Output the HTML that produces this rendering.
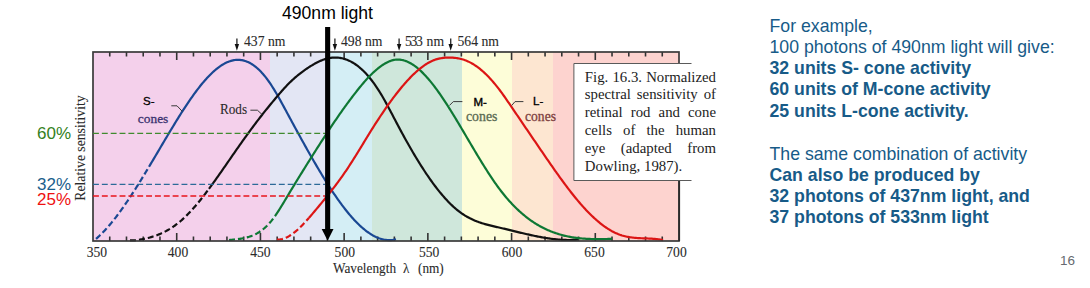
<!DOCTYPE html>
<html><head><meta charset="utf-8">
<style>
html,body{margin:0;padding:0;background:#fff;}
body{width:1090px;height:288px;position:relative;overflow:hidden;}
.a{position:absolute;white-space:nowrap;line-height:1;}
.serif{font-family:"Liberation Serif",serif;}
.ct{color:#2a2a2a;-webkit-text-stroke:0.1px #2a2a2a;}
.sans{font-family:"Liberation Sans",sans-serif;}
svg{position:absolute;left:0;top:0;}
.rt{position:absolute;left:769.5px;font-family:"Liberation Sans",sans-serif;font-size:17.7px;color:#175b88;white-space:nowrap;line-height:1;}
.b{font-weight:bold;}
.cl{position:absolute;left:584.8px;width:131.2px;font-family:"Liberation Serif",serif;font-size:14.8px;line-height:1;color:#222;text-align:justify;text-align-last:justify;white-space:nowrap;}
</style></head><body>
<svg width="1090" height="288" viewBox="0 0 1090 288">
<rect x="93" y="52" width="177" height="189" fill="#f4d0eb"/>
<rect x="270" y="52" width="59" height="189" fill="#e3e6f4"/>
<rect x="329" y="52" width="43" height="189" fill="#d4eef5"/>
<rect x="372" y="52" width="90" height="189" fill="#cfe7db"/>
<rect x="462" y="52" width="50" height="189" fill="#fdfdd8"/>
<rect x="512" y="52" width="41" height="189" fill="#fde6d1"/>
<rect x="553" y="52" width="126" height="189" fill="#fdd3cf"/>
<line x1="109.74" y1="52" x2="109.74" y2="56.5" stroke="#333" stroke-width="1.6"/>
<line x1="109.74" y1="241" x2="109.74" y2="236.5" stroke="#333" stroke-width="1.6"/>
<line x1="126.49" y1="52" x2="126.49" y2="56.5" stroke="#333" stroke-width="1.6"/>
<line x1="126.49" y1="241" x2="126.49" y2="236.5" stroke="#333" stroke-width="1.6"/>
<line x1="143.23" y1="52" x2="143.23" y2="56.5" stroke="#333" stroke-width="1.6"/>
<line x1="143.23" y1="241" x2="143.23" y2="236.5" stroke="#333" stroke-width="1.6"/>
<line x1="159.97" y1="52" x2="159.97" y2="56.5" stroke="#333" stroke-width="1.6"/>
<line x1="159.97" y1="241" x2="159.97" y2="236.5" stroke="#333" stroke-width="1.6"/>
<line x1="176.71" y1="52" x2="176.71" y2="60" stroke="#333" stroke-width="1.6"/>
<line x1="176.71" y1="241" x2="176.71" y2="233" stroke="#333" stroke-width="1.6"/>
<line x1="193.46" y1="52" x2="193.46" y2="56.5" stroke="#333" stroke-width="1.6"/>
<line x1="193.46" y1="241" x2="193.46" y2="236.5" stroke="#333" stroke-width="1.6"/>
<line x1="210.20" y1="52" x2="210.20" y2="56.5" stroke="#333" stroke-width="1.6"/>
<line x1="210.20" y1="241" x2="210.20" y2="236.5" stroke="#333" stroke-width="1.6"/>
<line x1="226.94" y1="52" x2="226.94" y2="56.5" stroke="#333" stroke-width="1.6"/>
<line x1="226.94" y1="241" x2="226.94" y2="236.5" stroke="#333" stroke-width="1.6"/>
<line x1="243.69" y1="52" x2="243.69" y2="56.5" stroke="#333" stroke-width="1.6"/>
<line x1="243.69" y1="241" x2="243.69" y2="236.5" stroke="#333" stroke-width="1.6"/>
<line x1="260.43" y1="52" x2="260.43" y2="60" stroke="#333" stroke-width="1.6"/>
<line x1="260.43" y1="241" x2="260.43" y2="233" stroke="#333" stroke-width="1.6"/>
<line x1="277.17" y1="52" x2="277.17" y2="56.5" stroke="#333" stroke-width="1.6"/>
<line x1="277.17" y1="241" x2="277.17" y2="236.5" stroke="#333" stroke-width="1.6"/>
<line x1="293.92" y1="52" x2="293.92" y2="56.5" stroke="#333" stroke-width="1.6"/>
<line x1="293.92" y1="241" x2="293.92" y2="236.5" stroke="#333" stroke-width="1.6"/>
<line x1="310.66" y1="52" x2="310.66" y2="56.5" stroke="#333" stroke-width="1.6"/>
<line x1="310.66" y1="241" x2="310.66" y2="236.5" stroke="#333" stroke-width="1.6"/>
<line x1="327.40" y1="52" x2="327.40" y2="56.5" stroke="#333" stroke-width="1.6"/>
<line x1="327.40" y1="241" x2="327.40" y2="236.5" stroke="#333" stroke-width="1.6"/>
<line x1="344.14" y1="52" x2="344.14" y2="60" stroke="#333" stroke-width="1.6"/>
<line x1="344.14" y1="241" x2="344.14" y2="233" stroke="#333" stroke-width="1.6"/>
<line x1="360.89" y1="52" x2="360.89" y2="56.5" stroke="#333" stroke-width="1.6"/>
<line x1="360.89" y1="241" x2="360.89" y2="236.5" stroke="#333" stroke-width="1.6"/>
<line x1="377.63" y1="52" x2="377.63" y2="56.5" stroke="#333" stroke-width="1.6"/>
<line x1="377.63" y1="241" x2="377.63" y2="236.5" stroke="#333" stroke-width="1.6"/>
<line x1="394.37" y1="52" x2="394.37" y2="56.5" stroke="#333" stroke-width="1.6"/>
<line x1="394.37" y1="241" x2="394.37" y2="236.5" stroke="#333" stroke-width="1.6"/>
<line x1="411.12" y1="52" x2="411.12" y2="56.5" stroke="#333" stroke-width="1.6"/>
<line x1="411.12" y1="241" x2="411.12" y2="236.5" stroke="#333" stroke-width="1.6"/>
<line x1="427.86" y1="52" x2="427.86" y2="60" stroke="#333" stroke-width="1.6"/>
<line x1="427.86" y1="241" x2="427.86" y2="233" stroke="#333" stroke-width="1.6"/>
<line x1="444.60" y1="52" x2="444.60" y2="56.5" stroke="#333" stroke-width="1.6"/>
<line x1="444.60" y1="241" x2="444.60" y2="236.5" stroke="#333" stroke-width="1.6"/>
<line x1="461.35" y1="52" x2="461.35" y2="56.5" stroke="#333" stroke-width="1.6"/>
<line x1="461.35" y1="241" x2="461.35" y2="236.5" stroke="#333" stroke-width="1.6"/>
<line x1="478.09" y1="52" x2="478.09" y2="56.5" stroke="#333" stroke-width="1.6"/>
<line x1="478.09" y1="241" x2="478.09" y2="236.5" stroke="#333" stroke-width="1.6"/>
<line x1="494.83" y1="52" x2="494.83" y2="56.5" stroke="#333" stroke-width="1.6"/>
<line x1="494.83" y1="241" x2="494.83" y2="236.5" stroke="#333" stroke-width="1.6"/>
<line x1="511.57" y1="52" x2="511.57" y2="60" stroke="#333" stroke-width="1.6"/>
<line x1="511.57" y1="241" x2="511.57" y2="233" stroke="#333" stroke-width="1.6"/>
<line x1="528.32" y1="52" x2="528.32" y2="56.5" stroke="#333" stroke-width="1.6"/>
<line x1="528.32" y1="241" x2="528.32" y2="236.5" stroke="#333" stroke-width="1.6"/>
<line x1="545.06" y1="52" x2="545.06" y2="56.5" stroke="#333" stroke-width="1.6"/>
<line x1="545.06" y1="241" x2="545.06" y2="236.5" stroke="#333" stroke-width="1.6"/>
<line x1="561.80" y1="52" x2="561.80" y2="56.5" stroke="#333" stroke-width="1.6"/>
<line x1="561.80" y1="241" x2="561.80" y2="236.5" stroke="#333" stroke-width="1.6"/>
<line x1="578.55" y1="52" x2="578.55" y2="56.5" stroke="#333" stroke-width="1.6"/>
<line x1="578.55" y1="241" x2="578.55" y2="236.5" stroke="#333" stroke-width="1.6"/>
<line x1="595.29" y1="52" x2="595.29" y2="60" stroke="#333" stroke-width="1.6"/>
<line x1="595.29" y1="241" x2="595.29" y2="233" stroke="#333" stroke-width="1.6"/>
<line x1="612.03" y1="52" x2="612.03" y2="56.5" stroke="#333" stroke-width="1.6"/>
<line x1="612.03" y1="241" x2="612.03" y2="236.5" stroke="#333" stroke-width="1.6"/>
<line x1="628.78" y1="52" x2="628.78" y2="56.5" stroke="#333" stroke-width="1.6"/>
<line x1="628.78" y1="241" x2="628.78" y2="236.5" stroke="#333" stroke-width="1.6"/>
<line x1="645.52" y1="52" x2="645.52" y2="56.5" stroke="#333" stroke-width="1.6"/>
<line x1="645.52" y1="241" x2="645.52" y2="236.5" stroke="#333" stroke-width="1.6"/>
<line x1="662.26" y1="52" x2="662.26" y2="56.5" stroke="#333" stroke-width="1.6"/>
<line x1="662.26" y1="241" x2="662.26" y2="236.5" stroke="#333" stroke-width="1.6"/>
<path d="M96.00,238.92 L97.00,238.05 L98.00,237.16 L99.00,236.24 L100.00,235.29 L101.00,234.32 L102.00,233.32 L103.00,232.31 L104.00,231.26 L105.00,230.20 L106.00,229.11 L107.00,228.00 L108.00,226.87 L109.00,225.71 L110.00,224.54 L111.00,223.34 L112.00,222.12 L113.00,220.89 L114.00,219.63 L115.00,218.36 L116.00,217.07 L117.00,215.76 L118.00,214.43 L119.00,213.08 L120.00,211.72 L121.00,210.34 L122.00,208.95 L123.00,207.54 L124.00,206.11 L125.00,204.67 L126.00,203.22 L127.00,201.75 L128.00,200.27 L129.00,198.77 L130.00,197.26 L131.00,195.74 L132.00,194.21 L133.00,192.67 L134.00,191.12 L135.00,189.55 L136.00,187.98 L137.00,186.39 L138.00,184.80 L139.00,183.20 L140.00,181.59 L141.00,179.97 L142.00,178.34 L143.00,176.71 L144.00,175.07 L145.00,173.42 L146.00,171.77 L147.00,170.11 L148.00,168.45 L149.00,166.78" fill="none" stroke="#1a4893" stroke-width="2.2" stroke-dasharray="6 3" stroke-linecap="butt"/>
<path d="M149.00,166.78 L150.00,165.11 L151.00,163.43 L152.00,161.75 L153.00,160.07 L154.00,158.38 L155.00,156.70 L156.00,155.01 L157.00,153.32 L158.00,151.63 L159.00,149.94 L160.00,148.25 L161.00,146.55 L162.00,144.86 L163.00,143.18 L164.00,141.49 L165.00,139.80 L166.00,138.12 L167.00,136.44 L168.00,134.76 L169.00,133.09 L170.00,131.42 L171.00,129.76 L172.00,128.10 L173.00,126.45 L174.00,124.81 L175.00,123.17 L176.00,121.54 L177.00,119.92 L178.00,118.31 L179.00,116.70 L180.00,115.11 L181.00,113.53 L182.00,111.96 L183.00,110.40 L184.00,108.85 L185.00,107.32 L186.00,105.80 L187.00,104.30 L188.00,102.81 L189.00,101.33 L190.00,99.87 L191.00,98.43 L192.00,97.01 L193.00,95.60 L194.00,94.21 L195.00,92.84 L196.00,91.49 L197.00,90.15 L198.00,88.84 L199.00,87.55 L200.00,86.29 L201.00,85.04 L202.00,83.82 L203.00,82.62 L204.00,81.44 L205.00,80.29 L206.00,79.16 L207.00,78.06 L208.00,76.99 L209.00,75.94 L210.00,74.92 L211.00,73.93 L212.00,72.97 L213.00,72.03 L214.00,71.13 L215.00,70.26 L216.00,69.41 L217.00,68.60 L218.00,67.82 L219.00,67.07 L220.00,66.36 L221.00,65.68 L222.00,65.03 L223.00,64.42 L224.00,63.85 L225.00,63.31 L226.00,62.80 L227.00,62.34 L228.00,61.91 L229.00,61.52 L230.00,61.17 L231.00,60.86 L232.00,60.59 L233.00,60.36 L234.00,60.17 L235.00,60.02 L236.00,59.92 L237.00,59.85 L238.00,59.84 L239.00,59.86 L240.00,59.93 L241.00,60.04 L242.00,60.20 L243.00,60.41 L244.00,60.65 L245.00,60.94 L246.00,61.28 L247.00,61.66 L248.00,62.09 L249.00,62.56 L250.00,63.08 L251.00,63.65 L252.00,64.26 L253.00,64.91 L254.00,65.61 L255.00,66.36 L256.00,67.15 L257.00,67.99 L258.00,68.88 L259.00,69.81 L260.00,70.79 L261.00,71.82 L262.00,72.90 L263.00,74.02 L264.00,75.19 L265.00,76.40 L266.00,77.67 L267.00,78.98 L268.00,80.34 L269.00,81.74 L270.00,83.20 L271.00,84.70 L272.00,86.24 L273.00,87.83 L274.00,89.45 L275.00,91.10 L276.00,92.79 L277.00,94.51 L278.00,96.25 L279.00,98.01 L280.00,99.80 L281.00,101.61 L282.00,103.43 L283.00,105.26 L284.00,107.10 L285.00,108.95 L286.00,110.81 L287.00,112.67 L288.00,114.52 L289.00,116.38 L290.00,118.23 L291.00,120.08 L292.00,121.93 L293.00,123.77 L294.00,125.62 L295.00,127.45 L296.00,129.29 L297.00,131.12 L298.00,132.95 L299.00,134.77 L300.00,136.59 L301.00,138.41 L302.00,140.21 L303.00,142.02 L304.00,143.82 L305.00,145.61 L306.00,147.40 L307.00,149.18 L308.00,150.95 L309.00,152.72 L310.00,154.48 L311.00,156.23 L312.00,157.98 L313.00,159.72 L314.00,161.45 L315.00,163.17 L316.00,164.88 L317.00,166.59 L318.00,168.28 L319.00,169.97 L320.00,171.64 L321.00,173.30 L322.00,174.95 L323.00,176.60 L324.00,178.22 L325.00,179.84 L326.00,181.44 L327.00,183.03 L328.00,184.61 L329.00,186.17 L330.00,187.72 L331.00,189.26 L332.00,190.78 L333.00,192.28 L334.00,193.77 L335.00,195.24 L336.00,196.70 L337.00,198.14 L338.00,199.56 L339.00,200.96 L340.00,202.35 L341.00,203.72 L342.00,205.06 L343.00,206.39 L344.00,207.70 L345.00,208.99 L346.00,210.26 L347.00,211.51 L348.00,212.74 L349.00,213.94 L350.00,215.13 L351.00,216.29 L352.00,217.43 L353.00,218.54 L354.00,219.64 L355.00,220.71 L356.00,221.75 L357.00,222.77 L358.00,223.77 L359.00,224.73 L360.00,225.68 L361.00,226.60 L362.00,227.49 L363.00,228.35 L364.00,229.19 L365.00,230.00 L366.00,230.78 L367.00,231.53 L368.00,232.25 L369.00,232.95 L370.00,233.61 L371.00,234.25 L372.00,234.85 L373.00,235.43 L374.00,235.97 L375.00,236.48 L376.00,236.96 L377.00,237.41 L378.00,237.82 L379.00,238.20 L380.00,238.55 L381.00,238.87 L382.00,239.15 L383.00,239.39 L384.00,239.60 L385.00,239.78 L386.00,239.91 L387.00,240.02 L388.00,240.08 L389.00,240.11 L390.00,240.11 L391.00,240.06 L392.00,239.98 L393.00,239.85 L394.00,239.69 L395.00,239.49 L396.00,239.25" fill="none" stroke="#1a4893" stroke-width="2.2"/>
<path d="M130.00,240.30 L131.00,240.30 L132.00,240.30 L133.00,240.30 L134.00,240.30 L135.00,240.30 L136.00,240.23 L137.00,240.09 L138.00,239.94 L139.00,239.79 L140.00,239.62 L141.00,239.45 L142.00,239.27 L143.00,239.08 L144.00,238.88 L145.00,238.67 L146.00,238.44 L147.00,238.21 L148.00,237.97 L149.00,237.71 L150.00,237.44 L151.00,237.16 L152.00,236.86 L153.00,236.55 L154.00,236.23 L155.00,235.89 L156.00,235.54 L157.00,235.17 L158.00,234.78 L159.00,234.38 L160.00,233.97 L161.00,233.54 L162.00,233.08 L163.00,232.62 L164.00,232.13 L165.00,231.63 L166.00,231.10 L167.00,230.56 L168.00,230.00 L169.00,229.42 L170.00,228.81 L171.00,228.19 L172.00,227.54 L173.00,226.88 L174.00,226.19 L175.00,225.48 L176.00,224.74 L177.00,223.99 L178.00,223.21 L179.00,222.40 L180.00,221.57 L181.00,220.72 L182.00,219.84 L183.00,218.94 L184.00,218.01 L185.00,217.06 L186.00,216.09 L187.00,215.10 L188.00,214.09 L189.00,213.05 L190.00,212.00 L191.00,210.92 L192.00,209.83 L193.00,208.72 L194.00,207.58 L195.00,206.44 L196.00,205.27 L197.00,204.09 L198.00,202.89 L199.00,201.68 L200.00,200.45 L201.00,199.20 L202.00,197.94 L203.00,196.67 L204.00,195.39 L205.00,194.09 L206.00,192.78 L207.00,191.46 L208.00,190.13 L209.00,188.79" fill="none" stroke="#111111" stroke-width="2.2" stroke-dasharray="6 3" stroke-linecap="butt"/>
<path d="M209.00,188.79 L210.00,187.43 L211.00,186.07 L212.00,184.70 L213.00,183.32 L214.00,181.93 L215.00,180.54 L216.00,179.13 L217.00,177.72 L218.00,176.31 L219.00,174.89 L220.00,173.46 L221.00,172.04 L222.00,170.60 L223.00,169.17 L224.00,167.73 L225.00,166.28 L226.00,164.84 L227.00,163.39 L228.00,161.95 L229.00,160.50 L230.00,159.05 L231.00,157.61 L232.00,156.16 L233.00,154.72 L234.00,153.28 L235.00,151.84 L236.00,150.41 L237.00,148.98 L238.00,147.55 L239.00,146.13 L240.00,144.71 L241.00,143.29 L242.00,141.88 L243.00,140.48 L244.00,139.08 L245.00,137.69 L246.00,136.30 L247.00,134.91 L248.00,133.53 L249.00,132.16 L250.00,130.80 L251.00,129.44 L252.00,128.08 L253.00,126.74 L254.00,125.40 L255.00,124.07 L256.00,122.74 L257.00,121.42 L258.00,120.11 L259.00,118.81 L260.00,117.52 L261.00,116.23 L262.00,114.96 L263.00,113.69 L264.00,112.43 L265.00,111.18 L266.00,109.93 L267.00,108.70 L268.00,107.47 L269.00,106.24 L270.00,105.03 L271.00,103.81 L272.00,102.61 L273.00,101.41 L274.00,100.21 L275.00,99.01 L276.00,97.82 L277.00,96.63 L278.00,95.45 L279.00,94.27 L280.00,93.11 L281.00,91.95 L282.00,90.81 L283.00,89.68 L284.00,88.56 L285.00,87.47 L286.00,86.39 L287.00,85.34 L288.00,84.30 L289.00,83.29 L290.00,82.31 L291.00,81.34 L292.00,80.40 L293.00,79.48 L294.00,78.57 L295.00,77.69 L296.00,76.83 L297.00,75.99 L298.00,75.16 L299.00,74.36 L300.00,73.57 L301.00,72.79 L302.00,72.04 L303.00,71.30 L304.00,70.58 L305.00,69.87 L306.00,69.18 L307.00,68.50 L308.00,67.84 L309.00,67.19 L310.00,66.55 L311.00,65.93 L312.00,65.31 L313.00,64.72 L314.00,64.14 L315.00,63.58 L316.00,63.03 L317.00,62.51 L318.00,62.00 L319.00,61.52 L320.00,61.06 L321.00,60.62 L322.00,60.21 L323.00,59.83 L324.00,59.47 L325.00,59.14 L326.00,58.84 L327.00,58.57 L328.00,58.33 L329.00,58.12 L330.00,57.95 L331.00,57.80 L332.00,57.68 L333.00,57.60 L334.00,57.55 L335.00,57.52 L336.00,57.53 L337.00,57.58 L338.00,57.65 L339.00,57.76 L340.00,57.90 L341.00,58.07 L342.00,58.27 L343.00,58.51 L344.00,58.78 L345.00,59.09 L346.00,59.43 L347.00,59.80 L348.00,60.21 L349.00,60.65 L350.00,61.12 L351.00,61.64 L352.00,62.18 L353.00,62.76 L354.00,63.38 L355.00,64.03 L356.00,64.72 L357.00,65.44 L358.00,66.20 L359.00,67.00 L360.00,67.83 L361.00,68.70 L362.00,69.61 L363.00,70.55 L364.00,71.53 L365.00,72.55 L366.00,73.61 L367.00,74.70 L368.00,75.84 L369.00,77.01 L370.00,78.22 L371.00,79.47 L372.00,80.75 L373.00,82.08 L374.00,83.45 L375.00,84.85 L376.00,86.30 L377.00,87.78 L378.00,89.31 L379.00,90.87 L380.00,92.48 L381.00,94.13 L382.00,95.81 L383.00,97.53 L384.00,99.28 L385.00,101.06 L386.00,102.87 L387.00,104.70 L388.00,106.55 L389.00,108.41 L390.00,110.30 L391.00,112.19 L392.00,114.09 L393.00,116.00 L394.00,117.90 L395.00,119.81 L396.00,121.72 L397.00,123.62 L398.00,125.51 L399.00,127.39 L400.00,129.25 L401.00,131.11 L402.00,132.96 L403.00,134.79 L404.00,136.62 L405.00,138.43 L406.00,140.23 L407.00,142.02 L408.00,143.79 L409.00,145.55 L410.00,147.30 L411.00,149.03 L412.00,150.76 L413.00,152.46 L414.00,154.16 L415.00,155.83 L416.00,157.50 L417.00,159.15 L418.00,160.78 L419.00,162.40 L420.00,164.00 L421.00,165.59 L422.00,167.16 L423.00,168.71 L424.00,170.25 L425.00,171.77 L426.00,173.27 L427.00,174.75 L428.00,176.22 L429.00,177.67 L430.00,179.10 L431.00,180.51 L432.00,181.90 L433.00,183.28 L434.00,184.63 L435.00,185.97 L436.00,187.28 L437.00,188.58 L438.00,189.85 L439.00,191.10 L440.00,192.34 L441.00,193.55 L442.00,194.74 L443.00,195.90 L444.00,197.05 L445.00,198.17 L446.00,199.27 L447.00,200.35 L448.00,201.41 L449.00,202.44 L450.00,203.45 L451.00,204.43 L452.00,205.39 L453.00,206.32 L454.00,207.23 L455.00,208.12 L456.00,208.98 L457.00,209.82 L458.00,210.63 L459.00,211.41 L460.00,212.17 L461.00,212.90 L462.00,213.60 L463.00,214.28 L464.00,214.93 L465.00,215.56 L466.00,216.16 L467.00,216.74 L468.00,217.30 L469.00,217.84 L470.00,218.36 L471.00,218.85 L472.00,219.33 L473.00,219.79 L474.00,220.23 L475.00,220.65 L476.00,221.05 L477.00,221.44 L478.00,221.82 L479.00,222.18 L480.00,222.53 L481.00,222.86 L482.00,223.18 L483.00,223.50 L484.00,223.80 L485.00,224.09 L486.00,224.37 L487.00,224.64 L488.00,224.91 L489.00,225.16 L490.00,225.42 L491.00,225.66 L492.00,225.90 L493.00,226.14 L494.00,226.38 L495.00,226.61 L496.00,226.84 L497.00,227.07 L498.00,227.29 L499.00,227.52 L500.00,227.75 L501.00,227.99 L502.00,228.22 L503.00,228.45 L504.00,228.69 L505.00,228.93 L506.00,229.17 L507.00,229.41 L508.00,229.65 L509.00,229.89 L510.00,230.14 L511.00,230.38 L512.00,230.62 L513.00,230.87 L514.00,231.11 L515.00,231.35 L516.00,231.60 L517.00,231.84 L518.00,232.08 L519.00,232.32 L520.00,232.57 L521.00,232.81 L522.00,233.04 L523.00,233.28 L524.00,233.52 L525.00,233.75 L526.00,233.98 L527.00,234.21 L528.00,234.44 L529.00,234.66 L530.00,234.89 L531.00,235.11 L532.00,235.33 L533.00,235.54 L534.00,235.75 L535.00,235.96 L536.00,236.16 L537.00,236.37 L538.00,236.56 L539.00,236.76 L540.00,236.95 L541.00,237.13 L542.00,237.31 L543.00,237.49 L544.00,237.66 L545.00,237.83 L546.00,237.99 L547.00,238.15 L548.00,238.30 L549.00,238.45 L550.00,238.59 L551.00,238.72 L552.00,238.85 L553.00,238.98 L554.00,239.09 L555.00,239.20 L556.00,239.31 L557.00,239.41 L558.00,239.50 L559.00,239.58 L560.00,239.66 L561.00,239.73 L562.00,239.79 L563.00,239.85 L564.00,239.89 L565.00,239.93 L566.00,239.96 L567.00,239.98 L568.00,240.00 L569.00,240.00 L570.00,240.00 L571.00,239.99 L572.00,239.97 L573.00,239.94 L574.00,239.90 L575.00,239.85 L576.00,239.80 L577.00,239.73 L578.00,239.65" fill="none" stroke="#111111" stroke-width="2.2"/>
<path d="M229.00,240.04 L230.00,239.93 L231.00,239.83 L232.00,239.73 L233.00,239.63 L234.00,239.53 L235.00,239.42 L236.00,239.31 L237.00,239.20 L238.00,239.07 L239.00,238.94 L240.00,238.80 L241.00,238.64 L242.00,238.47 L243.00,238.29 L244.00,238.09 L245.00,237.88 L246.00,237.64 L247.00,237.39 L248.00,237.11 L249.00,236.81 L250.00,236.48 L251.00,236.13 L252.00,235.75 L253.00,235.34 L254.00,234.90 L255.00,234.43 L256.00,233.93 L257.00,233.39 L258.00,232.81 L259.00,232.20 L260.00,231.54 L261.00,230.85 L262.00,230.11 L263.00,229.33 L264.00,228.51 L265.00,227.64 L266.00,226.72 L267.00,225.75 L268.00,224.73 L269.00,223.66 L270.00,222.53 L271.00,221.35 L272.00,220.11 L273.00,218.82 L274.00,217.47 L275.00,216.08" fill="none" stroke="#0e7834" stroke-width="2.2" stroke-dasharray="6 3" stroke-linecap="butt"/>
<path d="M275.00,216.08 L276.00,214.63 L277.00,213.15 L278.00,211.63 L279.00,210.07 L280.00,208.49 L281.00,206.88 L282.00,205.25 L283.00,203.61 L284.00,201.95 L285.00,200.28 L286.00,198.61 L287.00,196.94 L288.00,195.27 L289.00,193.60 L290.00,191.94 L291.00,190.28 L292.00,188.63 L293.00,186.98 L294.00,185.33 L295.00,183.69 L296.00,182.05 L297.00,180.42 L298.00,178.79 L299.00,177.16 L300.00,175.54 L301.00,173.92 L302.00,172.30 L303.00,170.69 L304.00,169.08 L305.00,167.47 L306.00,165.87 L307.00,164.26 L308.00,162.67 L309.00,161.07 L310.00,159.48 L311.00,157.89 L312.00,156.30 L313.00,154.72 L314.00,153.14 L315.00,151.56 L316.00,149.99 L317.00,148.42 L318.00,146.85 L319.00,145.29 L320.00,143.73 L321.00,142.18 L322.00,140.63 L323.00,139.08 L324.00,137.54 L325.00,136.01 L326.00,134.48 L327.00,132.95 L328.00,131.43 L329.00,129.92 L330.00,128.42 L331.00,126.92 L332.00,125.42 L333.00,123.94 L334.00,122.46 L335.00,120.98 L336.00,119.52 L337.00,118.06 L338.00,116.61 L339.00,115.17 L340.00,113.74 L341.00,112.31 L342.00,110.89 L343.00,109.48 L344.00,108.08 L345.00,106.69 L346.00,105.31 L347.00,103.94 L348.00,102.58 L349.00,101.23 L350.00,99.89 L351.00,98.55 L352.00,97.23 L353.00,95.92 L354.00,94.62 L355.00,93.33 L356.00,92.06 L357.00,90.79 L358.00,89.54 L359.00,88.29 L360.00,87.06 L361.00,85.84 L362.00,84.64 L363.00,83.45 L364.00,82.27 L365.00,81.12 L366.00,79.98 L367.00,78.87 L368.00,77.79 L369.00,76.74 L370.00,75.71 L371.00,74.72 L372.00,73.75 L373.00,72.80 L374.00,71.89 L375.00,70.99 L376.00,70.12 L377.00,69.27 L378.00,68.45 L379.00,67.66 L380.00,66.89 L381.00,66.16 L382.00,65.45 L383.00,64.78 L384.00,64.14 L385.00,63.54 L386.00,62.97 L387.00,62.44 L388.00,61.96 L389.00,61.51 L390.00,61.10 L391.00,60.74 L392.00,60.43 L393.00,60.16 L394.00,59.94 L395.00,59.77 L396.00,59.65 L397.00,59.58 L398.00,59.56 L399.00,59.59 L400.00,59.67 L401.00,59.79 L402.00,59.96 L403.00,60.18 L404.00,60.44 L405.00,60.75 L406.00,61.10 L407.00,61.50 L408.00,61.93 L409.00,62.41 L410.00,62.93 L411.00,63.50 L412.00,64.10 L413.00,64.74 L414.00,65.41 L415.00,66.13 L416.00,66.88 L417.00,67.67 L418.00,68.50 L419.00,69.36 L420.00,70.25 L421.00,71.18 L422.00,72.13 L423.00,73.13 L424.00,74.15 L425.00,75.20 L426.00,76.28 L427.00,77.40 L428.00,78.54 L429.00,79.71 L430.00,80.90 L431.00,82.12 L432.00,83.37 L433.00,84.64 L434.00,85.94 L435.00,87.26 L436.00,88.60 L437.00,89.97 L438.00,91.35 L439.00,92.76 L440.00,94.19 L441.00,95.63 L442.00,97.10 L443.00,98.58 L444.00,100.08 L445.00,101.60 L446.00,103.13 L447.00,104.68 L448.00,106.24 L449.00,107.81 L450.00,109.40 L451.00,111.00 L452.00,112.61 L453.00,114.23 L454.00,115.87 L455.00,117.51 L456.00,119.16 L457.00,120.82 L458.00,122.48 L459.00,124.16 L460.00,125.83 L461.00,127.52 L462.00,129.20 L463.00,130.90 L464.00,132.59 L465.00,134.29 L466.00,135.99 L467.00,137.69 L468.00,139.39 L469.00,141.09 L470.00,142.78 L471.00,144.48 L472.00,146.17 L473.00,147.86 L474.00,149.55 L475.00,151.23 L476.00,152.91 L477.00,154.58 L478.00,156.24 L479.00,157.90 L480.00,159.54 L481.00,161.18 L482.00,162.81 L483.00,164.43 L484.00,166.03 L485.00,167.63 L486.00,169.21 L487.00,170.78 L488.00,172.34 L489.00,173.88 L490.00,175.40 L491.00,176.91 L492.00,178.41 L493.00,179.88 L494.00,181.34 L495.00,182.78 L496.00,184.20 L497.00,185.60 L498.00,186.98 L499.00,188.33 L500.00,189.67 L501.00,190.98 L502.00,192.26 L503.00,193.53 L504.00,194.77 L505.00,195.99 L506.00,197.19 L507.00,198.37 L508.00,199.52 L509.00,200.66 L510.00,201.77 L511.00,202.86 L512.00,203.93 L513.00,204.98 L514.00,206.01 L515.00,207.01 L516.00,208.00 L517.00,208.97 L518.00,209.92 L519.00,210.85 L520.00,211.76 L521.00,212.65 L522.00,213.52 L523.00,214.37 L524.00,215.21 L525.00,216.02 L526.00,216.82 L527.00,217.60 L528.00,218.36 L529.00,219.10 L530.00,219.83 L531.00,220.54 L532.00,221.23 L533.00,221.91 L534.00,222.57 L535.00,223.21 L536.00,223.84 L537.00,224.45 L538.00,225.04 L539.00,225.62 L540.00,226.18 L541.00,226.73 L542.00,227.26 L543.00,227.78 L544.00,228.28 L545.00,228.77 L546.00,229.25 L547.00,229.71 L548.00,230.16 L549.00,230.59 L550.00,231.01 L551.00,231.41 L552.00,231.81 L553.00,232.19 L554.00,232.56 L555.00,232.91 L556.00,233.25 L557.00,233.58 L558.00,233.90 L559.00,234.21 L560.00,234.50 L561.00,234.79 L562.00,235.06 L563.00,235.32 L564.00,235.57 L565.00,235.82 L566.00,236.05 L567.00,236.27 L568.00,236.48 L569.00,236.68 L570.00,236.87 L571.00,237.05 L572.00,237.22 L573.00,237.38 L574.00,237.54 L575.00,237.68 L576.00,237.82 L577.00,237.95 L578.00,238.07 L579.00,238.18 L580.00,238.29 L581.00,238.39 L582.00,238.48 L583.00,238.56 L584.00,238.64 L585.00,238.71 L586.00,238.78 L587.00,238.83 L588.00,238.88 L589.00,238.93 L590.00,238.97 L591.00,239.01 L592.00,239.04 L593.00,239.06 L594.00,239.08 L595.00,239.09 L596.00,239.10 L597.00,239.11 L598.00,239.11 L599.00,239.11 L600.00,239.10 L601.00,239.10 L602.00,239.08 L603.00,239.07 L604.00,239.05 L605.00,239.03 L606.00,239.00 L607.00,238.98 L608.00,238.95 L609.00,238.92 L610.00,238.89 L611.00,238.85 L612.00,238.82" fill="none" stroke="#0e7834" stroke-width="2.2"/>
<path d="M277.00,239.55 L278.00,239.58 L279.00,239.54 L280.00,239.44 L281.00,239.29 L282.00,239.08 L283.00,238.81 L284.00,238.50 L285.00,238.13 L286.00,237.70 L287.00,237.24 L288.00,236.72 L289.00,236.16 L290.00,235.55 L291.00,234.91 L292.00,234.22 L293.00,233.49 L294.00,232.73 L295.00,231.93 L296.00,231.09 L297.00,230.22 L298.00,229.33 L299.00,228.40 L300.00,227.44 L301.00,226.46 L302.00,225.45 L303.00,224.42 L304.00,223.36 L305.00,222.29 L306.00,221.20 L307.00,220.09 L308.00,218.96 L309.00,217.83" fill="none" stroke="#dc1515" stroke-width="2.2" stroke-dasharray="6 3" stroke-linecap="butt"/>
<path d="M309.00,217.83 L310.00,216.67 L311.00,215.51 L312.00,214.34 L313.00,213.16 L314.00,211.98 L315.00,210.79 L316.00,209.59 L317.00,208.40 L318.00,207.20 L319.00,206.00 L320.00,204.80 L321.00,203.59 L322.00,202.38 L323.00,201.17 L324.00,199.95 L325.00,198.72 L326.00,197.49 L327.00,196.25 L328.00,195.01 L329.00,193.76 L330.00,192.49 L331.00,191.22 L332.00,189.94 L333.00,188.66 L334.00,187.36 L335.00,186.05 L336.00,184.72 L337.00,183.39 L338.00,182.04 L339.00,180.68 L340.00,179.31 L341.00,177.92 L342.00,176.52 L343.00,175.10 L344.00,173.67 L345.00,172.22 L346.00,170.76 L347.00,169.28 L348.00,167.78 L349.00,166.26 L350.00,164.72 L351.00,163.17 L352.00,161.61 L353.00,160.03 L354.00,158.45 L355.00,156.85 L356.00,155.24 L357.00,153.62 L358.00,152.00 L359.00,150.37 L360.00,148.74 L361.00,147.10 L362.00,145.46 L363.00,143.82 L364.00,142.18 L365.00,140.54 L366.00,138.90 L367.00,137.27 L368.00,135.64 L369.00,134.01 L370.00,132.40 L371.00,130.79 L372.00,129.19 L373.00,127.60 L374.00,126.02 L375.00,124.45 L376.00,122.89 L377.00,121.34 L378.00,119.80 L379.00,118.28 L380.00,116.76 L381.00,115.26 L382.00,113.77 L383.00,112.29 L384.00,110.82 L385.00,109.36 L386.00,107.92 L387.00,106.49 L388.00,105.08 L389.00,103.68 L390.00,102.29 L391.00,100.92 L392.00,99.56 L393.00,98.21 L394.00,96.88 L395.00,95.57 L396.00,94.27 L397.00,92.99 L398.00,91.72 L399.00,90.47 L400.00,89.24 L401.00,88.02 L402.00,86.82 L403.00,85.64 L404.00,84.47 L405.00,83.32 L406.00,82.19 L407.00,81.08 L408.00,79.99 L409.00,78.92 L410.00,77.87 L411.00,76.84 L412.00,75.83 L413.00,74.84 L414.00,73.88 L415.00,72.94 L416.00,72.02 L417.00,71.13 L418.00,70.26 L419.00,69.42 L420.00,68.60 L421.00,67.81 L422.00,67.04 L423.00,66.30 L424.00,65.59 L425.00,64.91 L426.00,64.26 L427.00,63.63 L428.00,63.04 L429.00,62.48 L430.00,61.94 L431.00,61.44 L432.00,60.97 L433.00,60.53 L434.00,60.13 L435.00,59.76 L436.00,59.42 L437.00,59.12 L438.00,58.85 L439.00,58.61 L440.00,58.39 L441.00,58.21 L442.00,58.05 L443.00,57.92 L444.00,57.81 L445.00,57.72 L446.00,57.66 L447.00,57.61 L448.00,57.59 L449.00,57.58 L450.00,57.59 L451.00,57.62 L452.00,57.66 L453.00,57.72 L454.00,57.80 L455.00,57.90 L456.00,58.02 L457.00,58.16 L458.00,58.32 L459.00,58.50 L460.00,58.72 L461.00,58.95 L462.00,59.21 L463.00,59.50 L464.00,59.82 L465.00,60.17 L466.00,60.55 L467.00,60.96 L468.00,61.40 L469.00,61.87 L470.00,62.37 L471.00,62.90 L472.00,63.46 L473.00,64.05 L474.00,64.66 L475.00,65.31 L476.00,65.99 L477.00,66.69 L478.00,67.42 L479.00,68.19 L480.00,68.98 L481.00,69.80 L482.00,70.64 L483.00,71.52 L484.00,72.42 L485.00,73.35 L486.00,74.30 L487.00,75.29 L488.00,76.30 L489.00,77.34 L490.00,78.40 L491.00,79.49 L492.00,80.61 L493.00,81.76 L494.00,82.93 L495.00,84.12 L496.00,85.34 L497.00,86.59 L498.00,87.86 L499.00,89.16 L500.00,90.49 L501.00,91.83 L502.00,93.20 L503.00,94.60 L504.00,96.00 L505.00,97.43 L506.00,98.87 L507.00,100.32 L508.00,101.77 L509.00,103.24 L510.00,104.70 L511.00,106.17 L512.00,107.64 L513.00,109.12 L514.00,110.59 L515.00,112.06 L516.00,113.53 L517.00,115.00 L518.00,116.48 L519.00,117.95 L520.00,119.42 L521.00,120.90 L522.00,122.37 L523.00,123.84 L524.00,125.32 L525.00,126.79 L526.00,128.26 L527.00,129.73 L528.00,131.21 L529.00,132.68 L530.00,134.15 L531.00,135.62 L532.00,137.09 L533.00,138.56 L534.00,140.03 L535.00,141.49 L536.00,142.96 L537.00,144.43 L538.00,145.89 L539.00,147.35 L540.00,148.82 L541.00,150.28 L542.00,151.74 L543.00,153.20 L544.00,154.65 L545.00,156.11 L546.00,157.56 L547.00,159.01 L548.00,160.46 L549.00,161.91 L550.00,163.35 L551.00,164.79 L552.00,166.23 L553.00,167.66 L554.00,169.09 L555.00,170.51 L556.00,171.92 L557.00,173.33 L558.00,174.73 L559.00,176.13 L560.00,177.52 L561.00,178.90 L562.00,180.27 L563.00,181.64 L564.00,183.00 L565.00,184.35 L566.00,185.68 L567.00,187.01 L568.00,188.33 L569.00,189.64 L570.00,190.94 L571.00,192.22 L572.00,193.49 L573.00,194.76 L574.00,196.01 L575.00,197.24 L576.00,198.47 L577.00,199.67 L578.00,200.87 L579.00,202.05 L580.00,203.22 L581.00,204.37 L582.00,205.50 L583.00,206.62 L584.00,207.73 L585.00,208.82 L586.00,209.89 L587.00,210.94 L588.00,211.98 L589.00,213.00 L590.00,214.01 L591.00,214.99 L592.00,215.96 L593.00,216.91 L594.00,217.84 L595.00,218.75 L596.00,219.65 L597.00,220.52 L598.00,221.38 L599.00,222.21 L600.00,223.03 L601.00,223.82 L602.00,224.60 L603.00,225.35 L604.00,226.09 L605.00,226.80 L606.00,227.49 L607.00,228.16 L608.00,228.81 L609.00,229.43 L610.00,230.04 L611.00,230.62 L612.00,231.18 L613.00,231.71 L614.00,232.22 L615.00,232.71 L616.00,233.17 L617.00,233.61 L618.00,234.03 L619.00,234.42 L620.00,234.79 L621.00,235.13 L622.00,235.45 L623.00,235.74 L624.00,236.01 L625.00,236.26 L626.00,236.49 L627.00,236.71 L628.00,236.90 L629.00,237.08 L630.00,237.24 L631.00,237.38 L632.00,237.51 L633.00,237.63 L634.00,237.74 L635.00,237.83 L636.00,237.92 L637.00,237.99 L638.00,238.06 L639.00,238.12 L640.00,238.18 L641.00,238.23 L642.00,238.27 L643.00,238.32 L644.00,238.36 L645.00,238.39 L646.00,238.43 L647.00,238.47 L648.00,238.52 L649.00,238.56 L650.00,238.61 L651.00,238.66 L652.00,238.72 L653.00,238.79 L654.00,238.86 L655.00,238.95 L656.00,239.04 L657.00,239.14 L658.00,239.26 L659.00,239.39 L660.00,239.53 L661.00,239.69 L662.00,239.86 L663.00,240.05" fill="none" stroke="#dc1515" stroke-width="2.2"/>
<rect x="93" y="52" width="586" height="189" fill="none" stroke="#3a3a3a" stroke-width="1.7"/>
<line x1="93" y1="133.3" x2="325" y2="133.3" stroke="#3f8a2e" stroke-width="1.3" stroke-dasharray="5.9 2.95"/>
<line x1="93" y1="184.4" x2="325" y2="184.4" stroke="#2c6a98" stroke-width="1.3" stroke-dasharray="5.9 2.95"/>
<line x1="93" y1="196" x2="325" y2="196" stroke="#e8141c" stroke-width="1.3" stroke-dasharray="5.9 2.95"/>
<rect x="325.1" y="27" width="5.1" height="203" fill="#000"/>
<polygon points="321.7,229 333.5,229 327.65,240.8" fill="#000"/>
<line x1="236.9" y1="38.5" x2="236.9" y2="46" stroke="#333" stroke-width="1.4"/>
<polygon points="234.70000000000002,44 239.1,44 236.9,50.8" fill="#111"/>
<line x1="334.9" y1="38.5" x2="334.9" y2="46" stroke="#333" stroke-width="1.4"/>
<polygon points="332.7,44 337.09999999999997,44 334.9,50.8" fill="#111"/>
<line x1="399.1" y1="38.5" x2="399.1" y2="46" stroke="#333" stroke-width="1.4"/>
<polygon points="396.90000000000003,44 401.3,44 399.1,50.8" fill="#111"/>
<line x1="450.7" y1="38.5" x2="450.7" y2="46" stroke="#333" stroke-width="1.4"/>
<polygon points="448.5,44 452.9,44 450.7,50.8" fill="#111"/>
<path d="M171.3,105.8 L177,105.8 L182.4,111.5" fill="none" stroke="#3a3a3a" stroke-width="1"/>
<path d="M250.4,110.2 L257.4,110.2 L262.2,114.6" fill="none" stroke="#3a3a3a" stroke-width="1"/>
<path d="M449.4,105.5 L453.3,101.6 L462.4,101.6" fill="none" stroke="#3a3a3a" stroke-width="1"/>
<path d="M511.7,105.5 L515,101.6 L523.4,101.6" fill="none" stroke="#3a3a3a" stroke-width="1"/>
<rect x="573.9" y="63.2" width="117.6" height="117.6" fill="#fff"/>
<path d="M691.5,63.5 L573.9,63.5 L573.9,180.5 L691.5,180.5" fill="none" stroke="#5a5a5a" stroke-width="1"/>
<line x1="679.2" y1="181" x2="679.2" y2="241" stroke="#2b2b2b" stroke-width="1.8"/>
</svg>
<div class="a sans" style="left:282px;top:4.9px;font-size:17.6px;color:#000;">490nm light</div>
<div class="a serif ct" style="left:244px;top:34.5px;font-size:13.7px;">437 nm</div>
<div class="a serif ct" style="left:341px;top:34.5px;font-size:13.7px;">498 nm</div>
<div class="a serif ct" style="left:405px;top:34.5px;font-size:13.7px;letter-spacing:-1.4px;">533</div>
<div class="a serif ct" style="left:426.6px;top:34.5px;font-size:13.7px;">nm</div>
<div class="a serif ct" style="left:457.5px;top:34.5px;font-size:13.7px;">564 nm</div>
<div class="a serif ct" style="left:66.9px;width:60px;text-align:center;top:245.6px;font-size:13.6px;">350</div>
<div class="a serif ct" style="left:148.0px;width:60px;text-align:center;top:245.6px;font-size:13.6px;">400</div>
<div class="a serif ct" style="left:230.4px;width:60px;text-align:center;top:245.6px;font-size:13.6px;">450</div>
<div class="a serif ct" style="left:314.8px;width:60px;text-align:center;top:245.6px;font-size:13.6px;">500</div>
<div class="a serif ct" style="left:399.1px;width:60px;text-align:center;top:245.6px;font-size:13.6px;">550</div>
<div class="a serif ct" style="left:482.0px;width:60px;text-align:center;top:245.6px;font-size:13.6px;">600</div>
<div class="a serif ct" style="left:564.5px;width:60px;text-align:center;top:245.6px;font-size:13.6px;">650</div>
<div class="a serif ct" style="left:646.5px;width:60px;text-align:center;top:245.6px;font-size:13.6px;">700</div>
<div class="cl" style="top:69.50px;">Fig. 16.3. Normalized</div>
<div class="cl" style="top:87.36px;">spectral sensitivity of</div>
<div class="cl" style="top:105.22px;">retinal rod and cone</div>
<div class="cl" style="top:123.08px;">cells of the human</div>
<div class="cl" style="top:140.94px;">eye (adapted from</div>
<div class="cl" style="top:158.80px;text-align-last:left;">Dowling, 1987).</div>
<div class="a serif ct" style="left:332.5px;top:260.5px;font-size:14.5px;transform:scaleX(0.915);transform-origin:0 0;">Wavelength</div>
<div class="a serif ct" style="left:403px;top:260.5px;font-size:14.5px;transform:scaleX(0.915);transform-origin:0 0;">λ</div>
<div class="a serif ct" style="left:418px;top:260.5px;font-size:14.5px;transform:scaleX(0.915);transform-origin:0 0;">(nm)</div>
<div class="a serif" style="left:80.5px;top:147.5px;font-size:13.7px;color:#2a2a2a;-webkit-text-stroke:0.1px #2a2a2a;transform:translate(-50%,-50%) rotate(-90deg);">Relative sensitivity</div>
<div class="a sans" style="left:37px;top:125.4px;font-size:17px;color:#347f22;">60%</div>
<div class="a sans" style="left:37px;top:175.5px;font-size:17px;color:#1a5e8c;">32%</div>
<div class="a sans" style="left:37px;top:191px;font-size:17px;color:#ee1111;">25%</div>
<div class="a sans" style="left:143px;top:95.7px;font-size:11.5px;color:#000;-webkit-text-stroke:0.3px #000;">S-</div>
<div class="a serif" style="left:137.8px;top:111.5px;font-size:13.4px;color:#3b3370;-webkit-text-stroke:0.3px #3b3370;">cones</div>
<div class="a serif ct" style="left:219.5px;top:103.1px;font-size:14px;transform:scaleX(0.94);transform-origin:0 0;">Rods</div>
<div class="a sans" style="left:473.5px;top:97.3px;font-size:11.5px;color:#000;-webkit-text-stroke:0.4px #000;">M-</div>
<div class="a serif" style="left:466px;top:109.5px;font-size:13.8px;color:#5a6a52;-webkit-text-stroke:0.3px #5a6a52;">cones</div>
<div class="a sans" style="left:533px;top:95.5px;font-size:11.5px;color:#000;-webkit-text-stroke:0.35px #000;">L-</div>
<div class="a serif" style="left:525px;top:109.7px;font-size:13.6px;color:#7d4040;-webkit-text-stroke:0.3px #7d4040;">cones</div>
<div class="rt" style="top:17.9px;">For example,</div>
<div class="rt" style="top:39.1px;">100 photons of 490nm light will give:</div>
<div class="rt b" style="top:60.2px;">32 units S- cone activity</div>
<div class="rt b" style="top:81.4px;">60 units of M-cone activity</div>
<div class="rt b" style="top:102.5px;">25 units L-cone activity.</div>
<div class="rt" style="top:146.2px;">The same combination of activity</div>
<div class="rt b" style="top:167.2px;">Can also be produced by</div>
<div class="rt b" style="top:188.2px;">32 photons of 437nm light, and</div>
<div class="rt b" style="top:209.2px;">37 photons of 533nm light</div>
<div class="a sans" style="left:1060px;top:254.1px;font-size:13.5px;color:#666a70;">16</div>
</body></html>
